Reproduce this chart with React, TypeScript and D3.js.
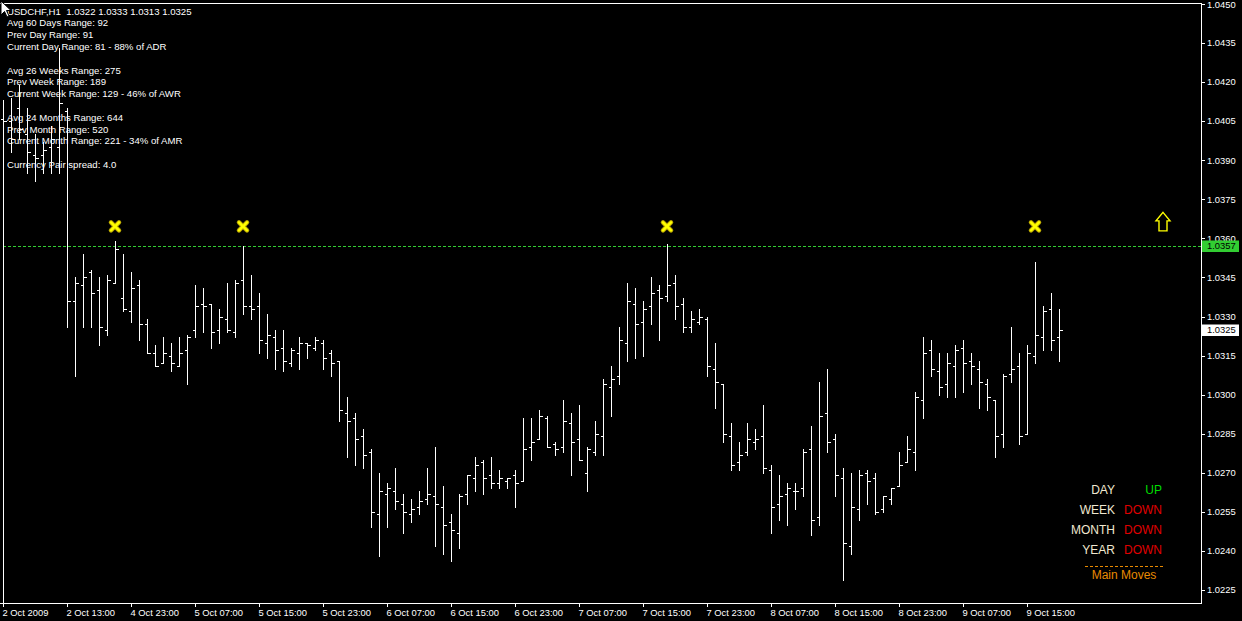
import React from 'react';
import * as d3 from 'd3';

// ---- data (USDCHF H1 bars) ----
const opens = [
  1.0406, 1.0405, 1.0410, 1.0400, 1.0392, 1.0392, 1.0395, 1.0395, 1.0409, 1.0336,
  1.0342, 1.0347, 1.0340, 1.0325, 1.0343, 1.0337, 1.0332, 1.0342, 1.0327, 1.0316,
  1.0312, 1.0315, 1.0311, 1.0317, 1.0325, 1.0335, 1.0335, 1.0325, 1.0329, 1.0324,
  1.0344, 1.0334, 1.0334, 1.0320, 1.0322, 1.0318, 1.0312, 1.0316, 1.0320, 1.0318,
  1.0320, 1.0316, 1.0313, 1.0293, 1.0291, 1.0284, 1.0278, 1.0254, 1.0262, 1.0263,
  1.0258, 1.0254, 1.0257, 1.0260, 1.0261, 1.0257, 1.0251, 1.0247, 1.0262, 1.0268,
  1.0274, 1.0269, 1.0266, 1.0267, 1.0269, 1.0267, 1.0280, 1.0283, 1.0291, 1.0281,
  1.0280, 1.0289, 1.0283, 1.0270, 1.0278, 1.0284, 1.0303, 1.0307, 1.0320, 1.0335,
  1.0328, 1.0334, 1.0340, 1.0338, 1.0343, 1.0335, 1.0326, 1.0328, 1.0329, 1.0310,
  1.0304, 1.0284, 1.0274, 1.0278, 1.0282, 1.0284, 1.0271, 1.0258, 1.0262, 1.0263,
  1.0264, 1.0279, 1.0253, 1.0293, 1.0283, 1.0268, 1.0242, 1.0256, 1.0270, 1.0268,
  1.0256, 1.0260, 1.0265, 1.0274, 1.0278, 1.0298, 1.0317, 1.0309, 1.0304, 1.0311,
  1.0318, 1.0313, 1.0310, 1.0304, 1.0298, 1.0285, 1.0308, 1.0311, 1.0285, 1.0315,
  1.0322, 1.0333, 1.0322,
];
const highs = [
  1.0413, 1.0414, 1.0419, 1.0410, 1.0400, 1.0397, 1.0403, 1.0433, 1.0410, 1.0345,
  1.0354, 1.0348, 1.0345, 1.0346, 1.0359, 1.0354, 1.0347, 1.0344, 1.0329, 1.0319,
  1.0322, 1.0320, 1.0322, 1.0323, 1.0342, 1.0341, 1.0335, 1.0333, 1.0343, 1.0344,
  1.0357, 1.0346, 1.0339, 1.0331, 1.0325, 1.0325, 1.0318, 1.0322, 1.0320, 1.0322,
  1.0321, 1.0317, 1.0313, 1.0299, 1.0293, 1.0287, 1.0279, 1.0270, 1.0266, 1.0272,
  1.0262, 1.0260, 1.0263, 1.0272, 1.0280, 1.0265, 1.0254, 1.0262, 1.0269, 1.0276,
  1.0275, 1.0276, 1.0271, 1.0268, 1.0271, 1.0291, 1.0291, 1.0294, 1.0292, 1.0282,
  1.0298, 1.0293, 1.0296, 1.0280, 1.0290, 1.0306, 1.0311, 1.0326, 1.0343, 1.0341,
  1.0336, 1.0345, 1.0342, 1.0358, 1.0346, 1.0337, 1.0332, 1.0333, 1.0330, 1.0320,
  1.0304, 1.0289, 1.0282, 1.0289, 1.0287, 1.0296, 1.0273, 1.0269, 1.0266, 1.0266,
  1.0279, 1.0288, 1.0305, 1.0310, 1.0285, 1.0272, 1.0270, 1.0271, 1.0271, 1.0270,
  1.0261, 1.0264, 1.0278, 1.0284, 1.0301, 1.0322, 1.0321, 1.0316, 1.0316, 1.0319,
  1.0321, 1.0316, 1.0313, 1.0306, 1.0298, 1.0308, 1.0326, 1.0316, 1.0319, 1.0351,
  1.0334, 1.0339, 1.0333,
];
const lows = [
  1.0220, 1.0393, 1.0398, 1.0385, 1.0382, 1.0385, 1.0385, 1.0385, 1.0326, 1.0307,
  1.0326, 1.0326, 1.0319, 1.0323, 1.0343, 1.0332, 1.0328, 1.0321, 1.0316, 1.0311,
  1.0312, 1.0309, 1.0311, 1.0304, 1.0322, 1.0324, 1.0318, 1.0320, 1.0324, 1.0322,
  1.0331, 1.0329, 1.0316, 1.0314, 1.0310, 1.0309, 1.0311, 1.0310, 1.0314, 1.0317,
  1.0310, 1.0307, 1.0290, 1.0276, 1.0273, 1.0272, 1.0249, 1.0238, 1.0249, 1.0256,
  1.0247, 1.0251, 1.0254, 1.0258, 1.0242, 1.0239, 1.0236, 1.0241, 1.0258, 1.0263,
  1.0262, 1.0264, 1.0264, 1.0264, 1.0257, 1.0267, 1.0275, 1.0283, 1.0280, 1.0277,
  1.0278, 1.0269, 1.0275, 1.0263, 1.0277, 1.0277, 1.0292, 1.0304, 1.0313, 1.0314,
  1.0315, 1.0327, 1.0321, 1.0336, 1.0329, 1.0324, 1.0324, 1.0327, 1.0307, 1.0295,
  1.0282, 1.0271, 1.0271, 1.0277, 1.0279, 1.0270, 1.0247, 1.0252, 1.0250, 1.0256,
  1.0261, 1.0246, 1.0250, 1.0278, 1.0261, 1.0229, 1.0239, 1.0252, 1.0258, 1.0254,
  1.0255, 1.0258, 1.0265, 1.0274, 1.0271, 1.0291, 1.0307, 1.0300, 1.0299, 1.0299,
  1.0301, 1.0304, 1.0295, 1.0294, 1.0276, 1.0280, 1.0305, 1.0281, 1.0285, 1.0312,
  1.0317, 1.0317, 1.0313,
];
const closes = [
  1.0405, 1.0398, 1.0402, 1.0393, 1.0391, 1.0394, 1.0398, 1.0412, 1.0336, 1.0343,
  1.0345, 1.0339, 1.0326, 1.0344, 1.0356, 1.0333, 1.0341, 1.0327, 1.0316, 1.0311,
  1.0316, 1.0312, 1.0316, 1.0322, 1.0334, 1.0334, 1.0324, 1.0330, 1.0325, 1.0343,
  1.0334, 1.0333, 1.0321, 1.0323, 1.0317, 1.0313, 1.0317, 1.0320, 1.0319, 1.0321,
  1.0314, 1.0312, 1.0294, 1.0290, 1.0283, 1.0277, 1.0255, 1.0263, 1.0264, 1.0259,
  1.0255, 1.0256, 1.0259, 1.0262, 1.0258, 1.0250, 1.0248, 1.0261, 1.0269, 1.0273,
  1.0268, 1.0266, 1.0268, 1.0268, 1.0266, 1.0279, 1.0282, 1.0292, 1.0280, 1.0279,
  1.0290, 1.0282, 1.0275, 1.0279, 1.0285, 1.0304, 1.0306, 1.0321, 1.0336, 1.0327,
  1.0333, 1.0339, 1.0337, 1.0342, 1.0334, 1.0326, 1.0329, 1.0330, 1.0311, 1.0305,
  1.0285, 1.0273, 1.0277, 1.0283, 1.0283, 1.0272, 1.0257, 1.0261, 1.0264, 1.0263,
  1.0278, 1.0252, 1.0292, 1.0282, 1.0269, 1.0243, 1.0257, 1.0269, 1.0267, 1.0255,
  1.0261, 1.0264, 1.0273, 1.0279, 1.0299, 1.0316, 1.0310, 1.0303, 1.0312, 1.0317,
  1.0312, 1.0311, 1.0305, 1.0299, 1.0284, 1.0307, 1.0310, 1.0284, 1.0316, 1.0323,
  1.0332, 1.0321, 1.0325,
];

const priceTicks = [
  1.0450, 1.0435, 1.0420, 1.0405, 1.0390, 1.0375, 1.0360, 1.0345,
  1.0330, 1.0315, 1.0300, 1.0285, 1.0270, 1.0255, 1.0240, 1.0225,
];
const timeLabels = [
  '2 Oct 2009', '2 Oct 13:00', '4 Oct 23:00', '5 Oct 07:00', '5 Oct 15:00', '5 Oct 23:00',
  '6 Oct 07:00', '6 Oct 15:00', '6 Oct 23:00', '7 Oct 07:00', '7 Oct 15:00', '7 Oct 23:00',
  '8 Oct 07:00', '8 Oct 15:00', '8 Oct 23:00', '9 Oct 07:00', '9 Oct 15:00',
];
const timeLabelBars = [0, 8, 16, 24, 32, 40, 48, 56, 64, 72, 80, 88, 96, 104, 112, 120, 128];

const markerBars = [14, 30, 83, 129];
const markerPrice = 1.0365;
const bidPrice = 1.0357;
const lastPrice = 1.0325;
const arrowBar = 145;
const arrowPrice = 1.0370;

const infoLines = [
  'USDCHF,H1  1.0322 1.0333 1.0313 1.0325',
  'Avg 60 Days Range: 92',
  'Prev Day Range: 91',
  'Current Day Range: 81 - 88% of ADR',
  '',
  'Avg 26 Weeks Range: 275',
  'Prev Week Range: 189',
  'Current Week Range: 129 - 46% of AWR',
  '',
  'Avg 24 Months Range: 644',
  'Prev Month Range: 520',
  'Current Month Range: 221 - 34% of AMR',
  '',
  'Currency Pair spread: 4.0',
];

const trendNames = ['DAY', 'WEEK', 'MONTH', 'YEAR'];
const trendStates = ['UP', 'DOWN', 'DOWN', 'DOWN'];

const FONT = '"Liberation Sans", Arial, sans-serif';

export default function App() {
  const W = 1242;
  const H = 621;
  const axisX = 1201.5;
  const axisY = 603.5;
  const topY = 3.5;

  const x = d3.scaleLinear().domain([0, 132]).range([3, 1059]);
  const y = d3.scaleLinear().domain([1.0225, 1.045]).range([590, 4]);
  const fmt = d3.format('.4f');
  const px = (v: number) => Math.round(v) + 0.5;

  const bars = opens.map((o, i) => ({ o, h: highs[i], l: lows[i], c: closes[i], i }));

  const bidY = y(bidPrice);
  const lastY = y(lastPrice);

  const ax = x(arrowBar);
  const ay = y(arrowPrice);
  const arrowPath = d3.path();
  arrowPath.moveTo(ax, ay);
  arrowPath.lineTo(ax + 7, ay + 8.5);
  arrowPath.lineTo(ax + 4, ay + 8.5);
  arrowPath.lineTo(ax + 4, ay + 18.5);
  arrowPath.lineTo(ax - 4, ay + 18.5);
  arrowPath.lineTo(ax - 4, ay + 8.5);
  arrowPath.lineTo(ax - 7, ay + 8.5);
  arrowPath.closePath();

  return (
    <div style={{ position: 'absolute', left: 0, top: 0, width: W, height: H, background: '#000' }}>
      <svg width={W} height={H} style={{ display: 'block', background: '#000' }}>
        <defs>
          <clipPath id="plot">
            <rect x={0} y={4} width={1201} height={599.5} />
          </clipPath>
        </defs>

        {/* frame */}
        <g stroke="#fff" strokeWidth={1} shapeRendering="crispEdges">
          <line x1={0} x2={axisX} y1={topY} y2={topY} />
          <line x1={axisX} x2={axisX} y1={topY} y2={axisY} />
          <line x1={0} x2={axisX} y1={axisY} y2={axisY} />
        </g>

        {/* price axis */}
        <g fontFamily={FONT} fontSize={9.4} fill="#fff">
          {priceTicks.map((p) => (
            <g key={p}>
              <line x1={axisX} x2={1205} y1={px(y(p))} y2={px(y(p))} stroke="#fff" shapeRendering="crispEdges" />
              <text x={1207} y={Math.max(y(p) + 0.8, 5.5)} dominantBaseline="middle">{fmt(p)}</text>
            </g>
          ))}
        </g>

        {/* time axis */}
        <g fontFamily={FONT} fontSize={9.4} fill="#fff">
          {timeLabelBars.map((b, k) => (
            <g key={b}>
              <line x1={px(x(b))} x2={px(x(b))} y1={axisY} y2={607} stroke="#fff" shapeRendering="crispEdges" />
              <text x={x(b) - 0.5} y={615.5}>{timeLabels[k]}</text>
            </g>
          ))}
        </g>

        {/* bid line */}
        <line x1={3} x2={axisX} y1={px(bidY)} y2={px(bidY)} stroke="#32CD32" strokeDasharray="3,2" shapeRendering="crispEdges" />

        {/* OHLC bars */}
        <g clipPath="url(#plot)" stroke="#fff" strokeWidth={1} shapeRendering="crispEdges">
          {bars.map((b) => {
            const cx = px(x(b.i));
            return (
              <g key={b.i}>
                <line x1={cx} x2={cx} y1={Math.round(y(b.h))} y2={Math.round(y(b.l)) + 1} />
                <line x1={cx - 3} x2={cx} y1={px(y(b.o))} y2={px(y(b.o))} />
                <line x1={cx} x2={cx + 3} y1={px(y(b.c))} y2={px(y(b.c))} />
              </g>
            );
          })}
        </g>

        {/* yellow markers */}
        {markerBars.map((b) => {
          const mx = x(b);
          const my = y(markerPrice) + 1;
          const d = `M${mx - 4},${my - 4}L${mx + 4},${my + 4}M${mx - 4},${my + 4}L${mx + 4},${my - 4}`;
          return (
            <g key={b}>
              <path d={d} stroke="#B8A400" strokeWidth={4.5} strokeLinecap="round" />
              <path d={d} stroke="#FFFF00" strokeWidth={2.6} strokeLinecap="round" />
            </g>
          );
        })}

        {/* up arrow */}
        <path d={arrowPath.toString()} fill="none" stroke="#FFFF00" strokeWidth={1.4} />

        {/* price labels */}
        <rect x={1202} y={Math.round(bidY) - 5.5} width={37} height={11.5} fill="#32CD32" />
        <text x={1207} y={bidY + 0.8} fontFamily={FONT} fontSize={9.4} fill="#000" dominantBaseline="middle">{fmt(bidPrice)}</text>
        <rect x={1202} y={Math.round(lastY) - 5.5} width={37} height={11.5} fill="#fff" />
        <text x={1207} y={lastY + 0.8} fontFamily={FONT} fontSize={9.4} fill="#000" dominantBaseline="middle">{fmt(lastPrice)}</text>

        {/* info text */}
        <g fontFamily={FONT} fontSize={9.6} fill="#fff">
          {infoLines.map((t, k) =>
            t ? (
              <text key={k} x={7} y={12 + k * 11.8} dominantBaseline="middle" style={{ whiteSpace: 'pre' }}>{t}</text>
            ) : null
          )}
        </g>

        {/* main moves legend */}
        <g fontFamily={FONT} fontSize={12}>
          {trendNames.map((n, k) => (
            <g key={n}>
              <text x={1115} y={490.5 + k * 20} textAnchor="end" dominantBaseline="middle" fill="#F0E8D0">{n}</text>
              <text x={1162} y={490.5 + k * 20} textAnchor="end" dominantBaseline="middle" fill={trendStates[k] === 'UP' ? '#00DD00' : '#E00000'}>{trendStates[k]}</text>
            </g>
          ))}
          <line x1={1085} x2={1163} y1={566.5} y2={566.5} stroke="#E88A00" strokeDasharray="3,2" shapeRendering="crispEdges" />
          <text x={1124} y={575.5} textAnchor="middle" dominantBaseline="middle" fill="#E88A00">Main Moves</text>
        </g>

        {/* mouse cursor */}
        <path d="M1,1 L1,15 L4.5,11.5 L7,17 L9,16 L6.5,10.5 L11,10.5 Z" fill="#fff" stroke="#000" strokeWidth={1} />
      </svg>
    </div>
  );
}
